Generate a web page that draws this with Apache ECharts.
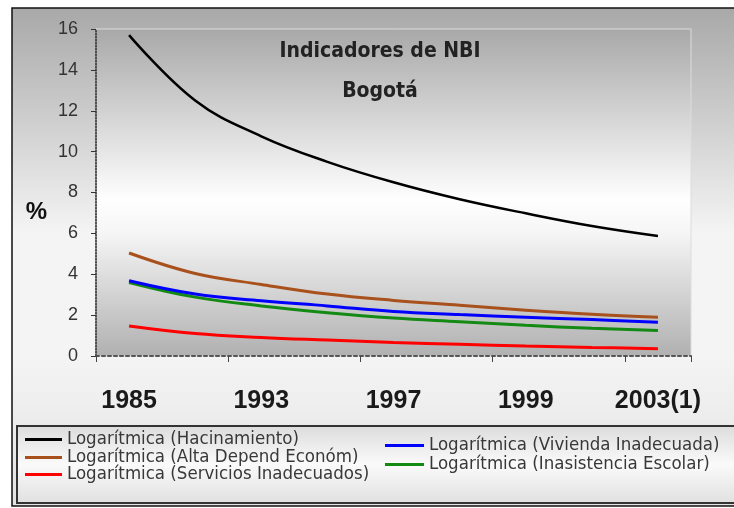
<!DOCTYPE html>
<html>
<head>
<meta charset="utf-8">
<script src="https://cdn.jsdelivr.net/npm/echarts@6/dist/echarts.min.js"></script>
<style>
html,body{margin:0;padding:0;background:#fff;}
#c{width:734px;height:508px;}
</style>
</head>
<body>
<div id="c"></div>
<script>
const categories = ['1985','1991','1993','1995','1997','1998','1999','2001','2003(1)'];
const yTicks = [0, 2, 4, 6, 8, 10, 12, 14, 16];
const hacinamiento = [15.7, 12.5, 10.75, 9.5, 8.5, 7.67, 6.98, 6.36, 5.87];
const altaDepend   = [5.04, 4.04, 3.5, 3.03, 2.72, 2.48, 2.24, 2.04, 1.9];
const servicios    = [1.47, 1.1, 0.91, 0.78, 0.66, 0.57, 0.49, 0.42, 0.36];
const vivienda     = [3.68, 3.03, 2.7, 2.45, 2.18, 2.03, 1.9, 1.78, 1.65];
const inasistencia = [3.6, 2.88, 2.45, 2.12, 1.86, 1.68, 1.5, 1.36, 1.25];

const names = [
  'Logarítmica (Hacinamiento)',
  'Logarítmica (Alta Depend Económ)',
  'Logarítmica (Servicios Inadecuados)',
  'Logarítmica (Vivienda Inadecuada)',
  'Logarítmica (Inasistencia Escolar)'
];
const colors = ['#000000', '#a9511d', '#ff0000', '#0000ff', '#138a13'];
const values = [hacinamiento, altaDepend, servicios, vivienda, inasistencia];

const chart = echarts.init(document.getElementById('c'), null, {renderer: 'canvas'});

const grad = (stops) => new echarts.graphic.LinearGradient(0, 0, 0, 1,
  stops.map(s => ({offset: s[0], color: s[1]})));

const legendFont = {fontFamily: '"DejaVu Sans Condensed", "DejaVu Sans", sans-serif', fontSize: 18.5, color: '#383838', lineHeight: 18};
const legendPos = [
  {left: 25, top: 430, w: 37},
  {left: 25, top: 448, w: 37},
  {left: 25, top: 465, w: 37},
  {left: 385, top: 436, w: 39},
  {left: 385, top: 455, w: 39}
];

const option = {
  animation: false,
  backgroundColor: '#ffffff',
  graphic: [
    {type: 'rect', z: -100, zlevel: 0, silent: true,
      shape: {x: 12, y: 8, width: 760, height: 498},
      style: {fill: grad([[0, '#a8a8a8'], [0.45, '#f4f4f4'], [0.7, '#f4f4f4'], [1, '#e2e2e2']]), stroke: '#111', lineWidth: 1.5}},
    {type: 'rect', z: -90, zlevel: 0, silent: true,
      shape: {x: 17, y: 426, width: 760, height: 77},
      style: {fill: grad([[0, '#dcdcdc'], [0.5, '#fafafa'], [1, '#e0e0e0']]), stroke: '#333', lineWidth: 2}}
  ],
  title: {
    text: 'Indicadores de NBI\nBogotá',
    left: 380, top: 32, textAlign: 'center', padding: 0,
    textStyle: {fontFamily: '"DejaVu Sans Condensed", "DejaVu Sans", sans-serif', fontWeight: 'bold', fontSize: 21, lineHeight: 40, color: '#222'}
  },
  legend: names.map((n, i) => ({
    data: [n], left: legendPos[i].left, top: legendPos[i].top, padding: 0,
    itemWidth: legendPos[i].w, itemHeight: 3, itemGap: 0, icon: 'rect',
    textStyle: legendFont, selectedMode: false
  })),
  grid: {
    left: 96, top: 29, width: 595, height: 327,
    show: true, borderColor: '#dcdcdc', borderWidth: 1,
    backgroundColor: grad([[0, '#a8a8a8'], [0.52, '#fefefe'], [0.62, '#f6f6f6'], [1, '#b0b0b0']]),
    outerBoundsMode: 'none', containLabel: false
  },
  xAxis: {
    type: 'category', data: categories, boundaryGap: true,
    axisLine: {show: true, lineStyle: {color: '#555', width: 2, type: [3, 3]}},
    axisTick: {show: true, alignWithLabel: false, length: 6, lineStyle: {color: '#444', width: 1}},
    axisLabel: {interval: 1, margin: 33, fontFamily: 'Liberation Sans, Arial, sans-serif', fontWeight: 'bold', fontSize: 25, color: '#1a1a1a'},
    splitLine: {show: false}
  },
  yAxis: {
    type: 'value', min: yTicks[0], max: yTicks[yTicks.length - 1], interval: 2,
    name: '%', nameLocation: 'middle', nameRotate: 0, nameGap: 49,
    nameTextStyle: {fontFamily: 'Liberation Sans, Arial, sans-serif', fontSize: 24, fontWeight: 'bold', color: '#111', verticalAlign: 'top', padding: [8, 0, 0, 0]},
    axisLine: {show: true, lineStyle: {color: '#222', width: 1.5, type: 'dotted'}},
    axisTick: {show: true, length: 5, lineStyle: {color: '#333'}},
    axisLabel: {margin: 18, fontFamily: 'Liberation Sans, Arial, sans-serif', fontSize: 18, color: '#333'},
    splitLine: {show: false}
  },
  series: [0, 1, 2, 4, 3].map(i => ({
    name: names[i], type: 'line', data: values[i], smooth: 0.4,
    symbol: 'none', color: colors[i],
    lineStyle: {color: colors[i], width: i === 0 ? 2.5 : 3}
  }))
};
chart.setOption(option);
</script>
</body>
</html>
